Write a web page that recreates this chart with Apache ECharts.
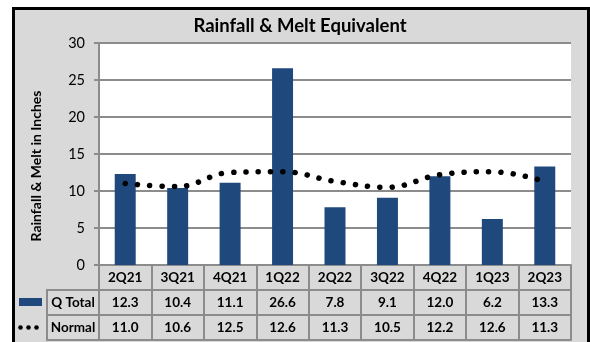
<!DOCTYPE html>
<html><head><meta charset="utf-8">
<script src="https://cdn.jsdelivr.net/npm/echarts@6/dist/echarts.min.js"></script>
<style>html,body{margin:0;padding:0;background:#fff}#c{width:590px;height:342px}</style>
</head><body><div id="c"></div>
<script>
const title = 'Rainfall & Melt Equivalent';
const yAxisTitle = 'Rainfall & Melt in Inches';
const categories = ['2Q21','3Q21','4Q21','1Q22','2Q22','3Q22','4Q22','1Q23','2Q23'];
const seriesNames = ['Q Total','Normal'];
const qTotal = [12.3,10.4,11.1,26.6,7.8,9.1,12.0,6.2,13.3];
const normal = [11.0,10.6,12.5,12.6,11.3,10.5,12.2,12.6,11.3];
const yTicks = [0,5,10,15,20,25,30];

const FONT = 'Lato, "Liberation Sans", sans-serif';
const GRAY = '#8c8c8c';
const BLUE = '#1F497D';
const ROW = 25;

const chart = echarts.init(document.getElementById('c'), null, {renderer:'canvas'});

function tableAxis(offset, values, showLabel){
  return {
    type:'category', data:categories, position:'bottom', offset:offset, gridIndex:0,
    axisLine:{show:true, lineStyle:{color:GRAY, width:2}},
    axisTick:{show:showLabel, length:ROW, interval:0, lineStyle:{color:GRAY, width:2}},
    axisLabel:{show:showLabel, interval:0, margin:6, color:'#000', fontFamily:FONT, fontWeight:'bold', fontSize:13.5,
      formatter:(v, i) => values ? values[i].toFixed(1) : v},
    splitLine:{show:false}
  };
}

chart.setOption({
  backgroundColor:'#fff',
  animation:false,
  grid:{left:99, right:19, top:43, bottom:77, show:true, backgroundColor:'#fff', borderWidth:0},
  xAxis:[
    tableAxis(0, null, true),
    tableAxis(ROW, qTotal, true),
    tableAxis(ROW*2, normal, true),
    tableAxis(ROW*3, null, false)
  ],
  yAxis:{
    type:'value', min:yTicks[0], max:yTicks[yTicks.length-1], interval:5,
    axisLine:{show:true, lineStyle:{color:GRAY, width:2}},
    axisTick:{show:true, length:5, lineStyle:{color:GRAY, width:2}},
    axisLabel:{margin:14, color:'#000', fontFamily:FONT, fontSize:14.5},
    splitLine:{show:true, lineStyle:{color:GRAY, width:2}}
  },
  series:[
    {name:seriesNames[0], type:'bar', data:qTotal, barWidth:'40%', itemStyle:{color:BLUE}, z:2},
    {name:seriesNames[1], type:'line', data:normal, smooth:0.4, symbol:'none', z:3,
      lineStyle:{color:'#000', width:5.5, type:[0.1,12.2], cap:'round'}}
  ],
  graphic:[
    {type:'rect', z:-10, silent:true, shape:{x:13.5, y:8.5, width:575, height:340},
      style:{fill:'#d9d9d9', stroke:'#000', lineWidth:3}},
    {type:'text', z:10, x:300, y:26, style:{text:title, fontFamily:FONT, fontWeight:'bold', fontSize:18.5, fill:'#000', align:'center', verticalAlign:'middle'}},
    {type:'text', z:10, x:36, y:166, rotation:Math.PI/2, style:{text:yAxisTitle, fontFamily:FONT, fontWeight:'bold', fontSize:14, fill:'#000', align:'center', verticalAlign:'middle'}},
    {type:'rect', z:10, shape:{x:47, y:265+ROW, width:52, height:ROW}, style:{fill:'none', stroke:GRAY, lineWidth:2}},
    {type:'rect', z:10, shape:{x:47, y:265+ROW*2, width:52, height:ROW}, style:{fill:'none', stroke:GRAY, lineWidth:2}},
    {type:'text', z:10, x:73, y:265+ROW*1.5, style:{text:seriesNames[0], fontFamily:FONT, fontWeight:'bold', fontSize:13.5, fill:'#000', align:'center', verticalAlign:'middle'}},
    {type:'text', z:10, x:73, y:265+ROW*2.5, style:{text:seriesNames[1], fontFamily:FONT, fontWeight:'bold', fontSize:13.5, fill:'#000', align:'center', verticalAlign:'middle'}},
    {type:'rect', z:10, shape:{x:19, y:298, width:23, height:8}, style:{fill:BLUE}},
    {type:'circle', z:10, shape:{cx:20.5, cy:265+ROW*2.5, r:2.3}, style:{fill:'#000'}},
    {type:'circle', z:10, shape:{cx:28.5, cy:265+ROW*2.5, r:2.3}, style:{fill:'#000'}},
    {type:'circle', z:10, shape:{cx:36.5, cy:265+ROW*2.5, r:2.3}, style:{fill:'#000'}}
  ]
});
</script></body></html>
